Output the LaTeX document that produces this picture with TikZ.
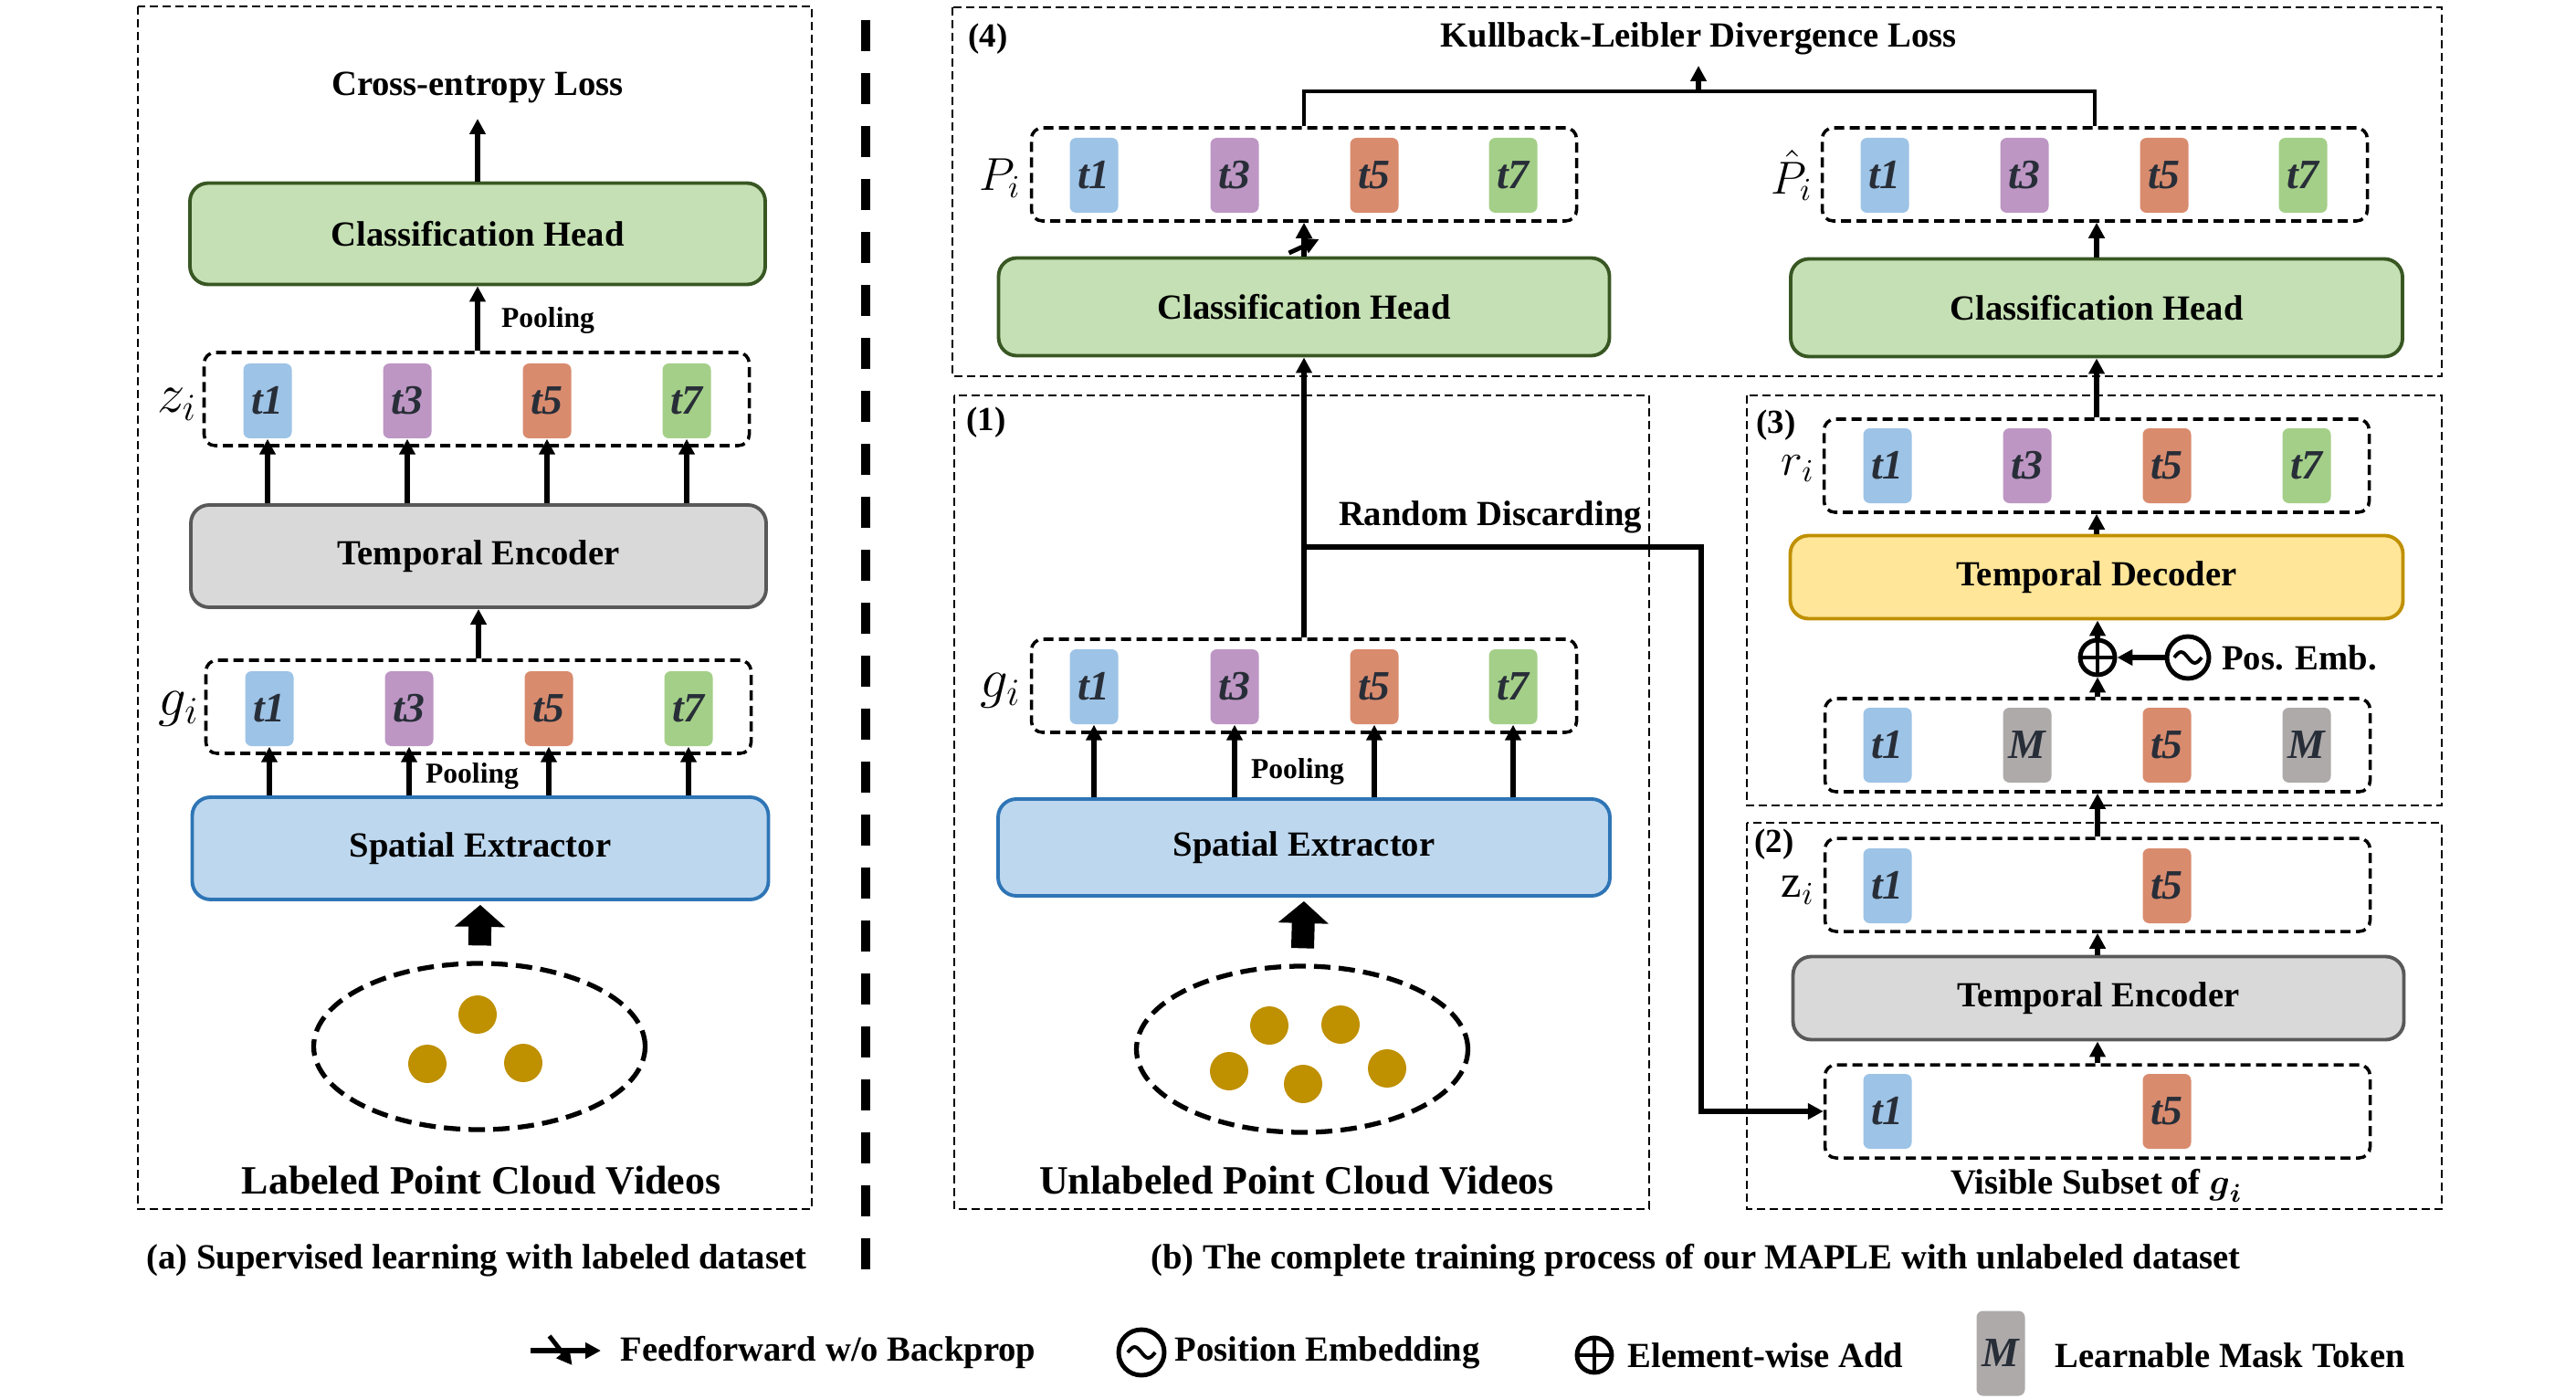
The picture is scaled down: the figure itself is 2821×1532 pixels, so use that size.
\documentclass[tikz,border=0pt]{standalone}
\usepackage{xcolor}
\usepackage{amsmath}
\usepackage{amssymb}
\usepackage{fontspec}
\setmainfont{Liberation Serif}
\usepackage{tikz}
\usetikzlibrary{arrows.meta, shapes, decorations.markings}
\definecolor{headgreen}{RGB}{197, 224, 180}
\definecolor{headgreenD}{RGB}{56, 87, 35}
\definecolor{encgray}{RGB}{217, 217, 217}
\definecolor{encgrayD}{RGB}{89, 89, 89}
\definecolor{spablue}{RGB}{189, 215, 238}
\definecolor{spablueD}{RGB}{46, 117, 182}
\definecolor{decyellow}{RGB}{255, 230, 153}
\definecolor{decyellowD}{RGB}{191, 144, 0}
\definecolor{dotgold}{RGB}{191, 144, 0}
\definecolor{tokblue}{RGB}{157, 195, 230}
\definecolor{tokpurple}{RGB}{189, 150, 196}
\definecolor{tokorange}{RGB}{217, 139, 110}
\definecolor{tokgreen}{RGB}{164, 207, 136}
\definecolor{tokgray}{RGB}{174, 170, 170}
\definecolor{toktext}{RGB}{40, 46, 56}
\newcommand{\blkfont}{\fontsize{11}{13}\selectfont\bfseries}
\newcommand{\bigfont}{\fontsize{12.5}{15}\selectfont\bfseries}
\newcommand{\poolfont}{\fontsize{9}{11}\selectfont\bfseries}
\newcommand{\tokfont}{\fontsize{13}{15}\selectfont\bfseries\itshape}

\begin{document}
\begin{tikzpicture}[x=0.1mm, y=-0.1mm,
    blk/.style={draw, rounded corners=2mm, line width=1.1pt, inner sep=0pt, font=\blkfont},
    tok/.style={rounded corners=0.7mm, minimum width=5.3mm, minimum height=8.2mm, inner sep=0pt, text=toktext, font=\tokfont},
    tokrow/.style={draw, line width=1pt, dash pattern=on 1.1mm off 0.6mm, rounded corners=1.2mm, minimum width=59.7mm, minimum height=10.2mm, inner sep=0pt},
    panel/.style={draw, line width=0.6pt, dash pattern=on 0.9mm off 0.5mm},
    arr/.style={-{Triangle[length=1.7mm, width=1.7mm]}, line width=1.5pt},
    link/.style={line width=1.4pt},
    lab/.style={font=\blkfont, inner sep=0pt},
    poollab/.style={font=\poolfont, inner sep=0pt},
    numlab/.style={font=\fontsize{10.5}{12}\selectfont\bfseries, inner sep=0pt},
    varlab/.style={font=\fontsize{17.28}{19}\selectfont, inner sep=0pt},
    smallvar/.style={font=\fontsize{14.4}{16}\selectfont, inner sep=0pt},
    pcloud/.style={ellipse, draw, line width=1.5pt, dash pattern=on 1.8mm off 0.9mm, minimum width=36.3mm, minimum height=18.2mm, inner sep=0pt},
    blockarr/.style={-{Triangle[length=2.4mm, width=5.4mm]}, line width=2.5mm},
    addop/.style={circle, draw, line width=1.4pt, minimum size=3.8mm, inner sep=0pt,
        path picture={\draw[line width=1.1pt] (path picture bounding box.north) -- (path picture bounding box.south)
            (path picture bounding box.west) -- (path picture bounding box.east);}},
    posemb/.style={circle, draw, line width=1.4pt, minimum size=4.6mm, inner sep=0pt,
        path picture={\draw[line width=1.1pt] ([xshift=-1.5mm]path picture bounding box.center)
            sin ++(0.75mm,0.6mm) cos ++(0.75mm,-0.6mm) sin ++(0.75mm,-0.6mm) cos ++(0.75mm,0.6mm);}},
    nobp/.style={arr, postaction={decorate, decoration={markings,
        mark=at position 0.3 with {\draw[line width=1.4pt] (-0.75mm,1.65mm) -- (0.75mm,-1.65mm);}}}},
    nobpR/.style={arr, postaction={decorate, decoration={markings,
        mark=at position 0.43 with {\draw[line width=1.4pt] (-1.25mm,1.6mm) -- (1.25mm,-1.6mm);}}}}]
    \useasboundingbox (0,0) rectangle (2821,1532);

    % (a) 有标签
    \draw[panel] (151,7) rectangle (889,1324);
    \node[lab] (ceLoss) at (523,96) {Cross-entropy Loss};
    \node[blk, fill=headgreen, draw=headgreenD, minimum width=63mm, minimum height=11.1mm] (headA) at (523,256) {Classification Head};
    \node[tokrow] (zRowA) at (522,437) {};
    \foreach \n/\x/\c in {1/293/tokblue, 3/446/tokpurple, 5/599/tokorange, 7/752/tokgreen}
        \node[tok, fill=\c] (zA\n) at (\x,439) {t\n};
    \node[varlab] (zLabA) at (194,443) {$z_i$};
    \node[blk, fill=encgray, draw=encgrayD, minimum width=63mm, minimum height=11.2mm] (encA) at (524,609) {Temporal Encoder};
    \node[tokrow] (gRowA) at (524,774) {};
    \foreach \n/\x/\c in {1/295/tokblue, 3/448/tokpurple, 5/601/tokorange, 7/754/tokgreen}
        \node[tok, fill=\c] (gA\n) at (\x,776) {t\n};
    \node[varlab] (gLabA) at (196,776) {$g_i$};
    \node[blk, fill=spablue, draw=spablueD, minimum width=63.1mm, minimum height=11.2mm] (spaA) at (526,929) {Spatial Extractor};
    \node[pcloud] (cloudA) at (525,1146) {};
    \foreach \p in {(523,1111), (468,1165), (573,1164)}
        \fill[dotgold] \p circle (2.1mm);
    \node[lab, font=\bigfont] (vidA) at (527,1293) {Labeled Point Cloud Videos};
    \node[lab] (capA) at (522,1380) {(a) Supervised learning with labeled dataset};

    % (a) 箭头
    \coordinate (ceTip) at (523,130);
    \draw[arr] (headA.north) -- (ceTip);
    \draw[arr] (zRowA.north -| headA.south) -- (headA.south);
    \node[poollab] (poolA1) at (600,351) {Pooling};
    \foreach \n in {1,3,5,7}
        \draw[arr] (encA.north -| zA\n) -- (zA\n.south);
    \draw[arr] (gRowA.north -| encA.south) -- (encA.south);
    \foreach \n in {1,3,5,7}
        \draw[arr] (spaA.north -| gA\n) -- (gA\n.south);
    \node[poollab] (poolA2) at (517,850) {Pooling};
    \draw[blockarr, shorten <=1.7mm, shorten >=0.4mm] (cloudA.north) -- (spaA.south);

    % 分隔线
    \draw[line width=2.6pt, dash pattern=on 3.4mm off 2.4mm] (948,22) -- (948,1400);

    % (b) 面板
    \draw[panel] (1043,8) rectangle (2674,412);
    \draw[panel] (1045,433) rectangle (1806,1324);
    \draw[panel] (1913,433) rectangle (2674,882);
    \draw[panel] (1913,901) rectangle (2674,1324);
    \node[numlab] (n4) at (1082,43) {(4)};
    \node[numlab] (n1) at (1080,463) {(1)};
    \node[numlab] (n3) at (1945,466) {(3)};
    \node[numlab] (n2) at (1943,925) {(2)};

    % (4) KL
    \node[lab] (klLoss) at (1860,42) {Kullback-Leibler Divergence Loss};
    \node[tokrow] (pRow) at (1428,191) {};
    \foreach \n/\x/\c in {1/1198/tokblue, 3/1352/tokpurple, 5/1505/tokorange, 7/1657/tokgreen}
        \node[tok, fill=\c] (pB\n) at (\x,192) {t\n};
    \node[smallvar] (pLab) at (1095,195) {$P_i$};
    \node[blk, fill=headgreen, draw=headgreenD, minimum width=66.9mm, minimum height=10.7mm] (headB) at (1428,336) {Classification Head};
    \node[tokrow] (phRow) at (2294,191) {};
    \foreach \n/\x/\c in {1/2064/tokblue, 3/2217/tokpurple, 5/2370/tokorange, 7/2522/tokgreen}
        \node[tok, fill=\c] (phC\n) at (\x,192) {t\n};
    \node[smallvar] (phLab) at (1962,192) {$\hat{P}_i$};
    \node[blk, fill=headgreen, draw=headgreenD, minimum width=67mm, minimum height=10.7mm] (headC) at (2296,337) {Classification Head};
    \coordinate (klJoin) at (1860,100);
    \coordinate (klTip) at (1860,72);
    \draw[link] (pRow.north) |- (klJoin) -| (phRow.north);
    \draw[arr] (klJoin) -- (klTip);
    \draw[nobp] (headB.north) -- (pRow.south -| headB.north);
    \draw[arr] (headC.north) -- (phRow.south -| headC.north);

    % (1) 空间提取
    \node[tokrow] (gRowB) at (1428,751) {};
    \foreach \n/\x/\c in {1/1198/tokblue, 3/1352/tokpurple, 5/1505/tokorange, 7/1657/tokgreen}
        \node[tok, fill=\c] (gB\n) at (\x,752) {t\n};
    \node[varlab] (gLabB) at (1096,756) {$g_i$};
    \node[poollab] (poolB) at (1421,845) {Pooling};
    \node[blk, fill=spablue, draw=spablueD, minimum width=67mm, minimum height=10.6mm] (spaB) at (1428,928) {Spatial Extractor};
    \node[pcloud] (cloudB) at (1426,1149) {};
    \foreach \p in {(1390,1123), (1468,1122), (1346,1173), (1427,1187), (1519,1170)}
        \fill[dotgold] \p circle (2.1mm);
    \node[lab, font=\bigfont] (vidB) at (1420,1293) {Unlabeled Point Cloud Videos};
    \node[lab] (rdLab) at (1632,566) {Random Discarding};
    \foreach \n in {1,3,5,7}
        \draw[arr] (spaB.north -| gB\n) -- (gB\n.south);
    \draw[blockarr, shorten <=1.7mm, shorten >=0.4mm] (cloudB.north) -- (spaB.south);
    \draw[arr] (gRowB.north) -- (headB.south);

    % (3) 解码
    \node[tokrow] (rRow) at (2296,510) {};
    \foreach \n/\x/\c in {1/2067/tokblue, 3/2220/tokpurple, 5/2373/tokorange, 7/2526/tokgreen}
        \node[tok, fill=\c] (rC\n) at (\x,510) {t\n};
    \node[smallvar] (rLab) at (1969,513) {$r_i$};
    \node[blk, fill=decyellow, draw=decyellowD, minimum width=67.1mm, minimum height=9.1mm] (decC) at (2296,632) {Temporal Decoder};
    \node[addop] (addC) at (2297,720) {};
    \node[posemb] (posC) at (2396,720) {};
    \node[lab] (posLab) at (2518,720) {Pos. Emb.};
    \node[tokrow] (mRow) at (2297,816) {};
    \foreach \n/\x/\c/\t in {1/2067/tokblue/t1, 2/2220/tokgray/M, 3/2373/tokorange/t5, 4/2526/tokgray/M}
        \node[tok, fill=\c] (mC\n) at (\x,816) {\t};

    % (2) 编码
    \node[tokrow] (zRowC) at (2297,969) {};
    \node[tok, fill=tokblue] (zC1) at (2067,970) {t1};
    \node[tok, fill=tokorange] (zC5) at (2373,970) {t5};
    \node[smallvar] (zLabC) at (1969,975) {$\mathrm{z}_i$};
    \node[blk, fill=encgray, draw=encgrayD, minimum width=66.9mm, minimum height=9.1mm] (encC) at (2298,1093) {Temporal Encoder};
    \node[tokrow] (visRow) at (2297,1217) {};
    \node[tok, fill=tokblue] (vC1) at (2067,1217) {t1};
    \node[tok, fill=tokorange] (vC5) at (2373,1217) {t5};
    \node[lab] (visLab) at (2296,1298) {Visible Subset of $\boldsymbol{g}_{\boldsymbol{i}}$};

    % 随机丢弃
    \coordinate (rdSplit) at (1428,599);
    \coordinate (rdTurn) at (1863,599);
    \draw[arr] (rdSplit) -- (rdTurn) |- (visRow.west);

    % 右列箭头
    \draw[arr] (rRow.north) -- (headC.south);
    \draw[arr] (decC.north) -- (rRow.south);
    \draw[arr] (addC.north) -- (decC.south -| addC.north);
    \draw[arr] (posC.west) -- (addC.east);
    \draw[arr] (mRow.north -| addC.south) -- (addC.south);
    \draw[arr] (zRowC.north) -- (mRow.south);
    \draw[arr] (encC.north -| zRowC.north) -- (zRowC.south);
    \draw[arr] (visRow.north) -- (encC.south -| visRow.north);

    \node[lab] (capB) at (1857,1380) {(b) The complete training process of our MAPLE with unlabeled dataset};

    % 图例
    \coordinate (lgA) at (581,1479);
    \coordinate (lgB) at (658,1479);
    \draw[nobpR] (lgA) -- (lgB);
    \node[lab, anchor=west] (lgT1) at (679,1481) {Feedforward w/o Backprop};
    \node[posemb, minimum size=5mm] (lgPos) at (1250,1481) {};
    \node[lab, anchor=west] (lgT2) at (1286,1481) {Position Embedding};
    \node[addop] (lgAdd) at (1746,1484) {};
    \node[lab, anchor=west] (lgT3) at (1782,1484) {Element-wise Add};
    \node[tok, fill=tokgray, minimum height=9.3mm] (lgM) at (2191,1482) {M};
    \node[lab, anchor=west] (lgT4) at (2250,1484) {Learnable Mask Token};
\end{tikzpicture}
\end{document}
